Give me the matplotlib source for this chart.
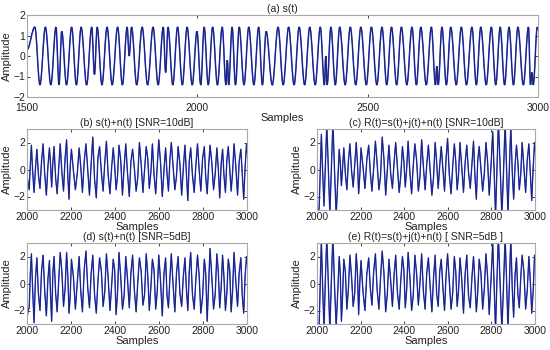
import matplotlib
matplotlib.use('Agg')
import matplotlib.pyplot as plt
from matplotlib.path import Path
from matplotlib.patches import PathPatch

plt.rcParams['font.family'] = ['Liberation Sans', 'DejaVu Sans']

# (a) s(t): extrema of the clean signal (sample, amplitude)
a_x = [1500, 1523, 1538, 1554, 1570, 1585, 1594, 1602, 1616, 1631, 1645, 1659, 1675, 1690,
       1698, 1706, 1720, 1735, 1750, 1766, 1780, 1794, 1800, 1807, 1822, 1838, 1854, 1870,
       1885, 1900, 1907, 1914, 1928, 1942, 1956, 1970, 1985, 1999, 2010, 2020, 2032, 2045,
       2059, 2073, 2084, 2088, 2092, 2102, 2112, 2123, 2137, 2151, 2166, 2180, 2191, 2202,
       2220, 2237, 2252, 2268, 2284, 2299, 2315, 2330, 2346, 2361, 2373, 2377, 2381, 2392,
       2405, 2418, 2434, 2449, 2465, 2480, 2496, 2511, 2527, 2542, 2556, 2570, 2585, 2599,
       2615, 2630, 2643, 2656, 2672, 2687, 2699, 2703, 2707, 2718, 2731, 2744, 2760, 2775,
       2790, 2806, 2819, 2832, 2848, 2863, 2876, 2889, 2902, 2915, 2928, 2941, 2957, 2972,
       2978, 2982, 2986, 2998, 3000]
a_y = [0.3, 1.41, -1.41, 1.41, -1.41, 1.41, -1.41, 1.2, -1.41, 1.41, -1.41, 1.41, -1.41, 1.41,
       -0.9, 1.41, -1.41, 1.41, -1.41, 1.41, -1.41, 1.41, 0.0, 1.41, -1.41, 1.41, -1.41, 1.41,
       -1.41, 1.41, -0.8, 1.41, -1.41, 1.41, -1.41, 1.41, -1.41, 1.2, -1.41, 1.41, -1.41, 1.41,
       -1.41, 1.41, -1.41, -0.2, -1.41, 1.41, -1.41, 1.41, -1.41, 1.41, -1.41, 1.41, -1.41, 1.2,
       -1.41, 1.41, -1.41, 1.41, -1.41, 1.41, -1.41, 1.41, -1.41, 1.41, -1.41, 0.0, -1.41, 1.41,
       -1.41, 1.41, -1.41, 1.41, -1.41, 1.41, -1.41, 1.41, -1.41, 1.41, -1.41, 1.41, -1.41, 1.41,
       -1.41, 1.41, -1.41, 1.41, -1.41, 1.41, -1.41, -0.5, -1.41, 1.41, -1.41, 1.41, -1.41, 1.41,
       -1.41, 1.41, -1.41, 1.41, -1.41, 1.41, -1.41, 1.41, -1.41, 1.41, -1.41, 1.41, -1.41, 1.41,
       -1.41, -0.8, -1.41, 1.41, 1.3]

# noisy signals, 2000..3000: extrema (same positions as s(t)) ...
n_x = [2000, 2010, 2020, 2032, 2045, 2059, 2073, 2088, 2102, 2112, 2123, 2137, 2151, 2166,
       2180, 2191, 2202, 2220, 2237, 2252, 2268, 2284, 2299, 2315, 2330, 2346, 2361, 2377,
       2392, 2405, 2418, 2434, 2449, 2465, 2480, 2496, 2511, 2527, 2542, 2556, 2570, 2585,
       2599, 2615, 2630, 2643, 2656, 2672, 2687, 2703, 2718, 2731, 2744, 2760, 2775, 2790,
       2806, 2819, 2832, 2848, 2863, 2876, 2889, 2902, 2915, 2928, 2941, 2957, 2972, 2985,
       2998, 3000]
b_y = [-0.4, -1.5, 1.8, -1.7, 1.5, -1.4, 1.9, -1.9, 1.6, -1.3, 1.7, -1.8, 1.9, -1.6,
       2.2, -2.2, 1.5, -1.5, 1.6, -1.7, 1.9, -1.9, 2.4, -2.1, 1.7, -1.6, 2.1, -1.8,
       1.6, -1.5, 1.8, -1.9, 1.9, -2.0, 1.5, -1.6, 2.0, -1.7, 1.7, -1.4, 1.9, -1.8,
       2.2, -2.0, 1.6, -1.6, 2.0, -1.5, 1.7, -1.9, 1.8, -2.3, 1.6, -1.7, 1.9, -1.6,
       1.7, -1.8, 1.8, -1.5, 1.6, -2.1, 1.5, -1.7, 1.7, -1.6, 1.9, -1.9, 1.5, -2.2,
       1.9, 1.2]
c_y = [-3.2, -2.8, 2.6, -2.7, 3.4, -3.3, 3.5, -3.4, 1.5, -1.2, 1.6, -1.5, 1.9, -1.3,
       2.0, -1.8, 1.6, -1.4, 1.8, -1.6, 2.1, -1.5, 2.4, -1.9, 1.8, -1.4, 2.0, -1.7,
       1.7, -1.3, 2.1, -1.8, 1.9, -1.6, 2.2, -1.5, 1.8, -1.9, 2.0, -1.4, 1.7, -1.6,
       2.3, -1.8, 1.9, -1.5, 2.0, -1.7, 1.8, -1.4, 2.1, -2.2, 1.7, -1.6, 2.0, -1.9,
       2.8, -3.4, 3.5, -3.5, 3.5, -3.3, 3.2, -2.2, 1.8, -1.5, 2.0, -1.7, 1.9, -2.3,
       2.0, 1.4]
d_y = [-2.6, -1.8, 2.2, -2.9, 1.9, -2.0, 2.1, -2.4, 1.7, -2.8, 2.0, -2.1, 2.3, -1.7,
       2.3, -2.2, 1.8, -1.9, 2.0, -2.1, 2.4, -1.8, 2.1, -2.2, 1.9, -1.7, 2.2, -2.0,
       1.8, -2.3, 2.3, -1.9, 2.0, -1.8, 2.1, -2.1, 1.9, -1.6, 2.2, -2.0, 1.8, -1.9,
       2.1, -2.4, 1.9, -1.8, 2.2, -2.1, 2.0, -1.7, 1.9, -2.0, 2.3, -1.9, 2.1, -2.2,
       1.8, -2.8, 2.6, -1.9, 2.2, -1.8, 2.1, -2.0, 1.8, -2.1, 2.3, -1.7, 1.9, -2.2,
       2.0, 1.5]
e_y = [-3.3, -3.0, 3.2, -3.4, 3.5, -3.5, 3.5, -3.2, 2.0, -2.8, 1.8, -1.9, 2.1, -1.7,
       2.2, -2.3, 1.7, -2.0, 1.9, -1.6, 2.2, -1.9, 2.4, -2.1, 1.8, -1.7, 2.1, -1.9,
       2.0, -1.8, 2.3, -2.0, 2.1, -1.6, 2.2, -1.9, 1.9, -2.1, 2.1, -1.7, 1.8, -2.0,
       2.2, -1.9, 2.0, -1.7, 1.9, -2.2, 2.1, -1.8, 2.0, -2.1, 1.8, -1.9, 2.2, -2.3,
       3.0, -3.5, 3.5, -3.5, 3.5, -3.4, 3.4, -2.5, 1.9, -1.8, 2.1, -1.9, 2.0, -2.2,
       2.1, 1.6]

# ... and the noisy kink halfway along each edge
b_s = [-1.0, 0.3, -0.2, 0.1, -0.4, 0.6, -0.3, 0.2, 0.4, 0.5,
       -0.6, 0.1, -0.2, 0.8, -0.5, 0.3, -0.1, -0.3, 0.2, 0.6,
       0.0, 0.4, -0.7, 0.9, -0.2, 0.5, -0.4, 0.1, 0.3, -0.5,
       0.7, 0.2, -0.3, 0.6, 0.1, -0.6, 0.4, 0.0, 0.8, -0.2,
       -0.4, 0.3, 0.5, -0.1, -0.3, 0.7, 0.2, -0.5, 0.4, 0.1,
       -0.2, 0.6, -0.4, 0.3, 0.0, 0.8, -0.6, 0.2, 0.5, -0.3,
       0.1, 0.4, -0.5, 0.7, 0.0, -0.2, 0.3, 0.6, -0.4, 0.2, 1.4]
c_s = [-3.4, 0.0, -0.2, 0.3, 0.1, 0.2, -0.1, -0.9, 0.4, 0.2,
       -0.3, 0.6, -0.1, 0.3, 0.5, -0.4, 0.2, 0.7, -0.2, 0.1,
       0.4, -0.5, 0.8, 0.0, -0.3, 0.5, 0.2, -0.4, 0.6, 0.1,
       -0.2, 0.3, 0.7, -0.5, 0.2, 0.4, -0.1, -0.6, 0.5, 0.3,
       0.0, 0.8, -0.4, 0.2, 0.6, -0.3, 0.1, 0.5, -0.2, 0.4,
       -0.5, 0.7, 0.1, -0.3, 0.6, 0.2, -0.1, 0.1, 0.3, -0.2,
       0.0, 0.2, -0.1, 0.3, 0.5, -0.4, 0.2, 0.7, -0.3, 0.1, 1.6]
d_s = [-2.0, 0.7, -0.6, 0.4, -0.8, 0.9, -0.5, 0.3, -0.9, 0.8,
       -0.7, 0.2, 0.9, -0.4, 0.6, -0.9, 0.5, 0.1, -0.6, 1.0,
       -0.3, 0.7, -0.8, 0.2, 0.9, -0.6, 0.4, -0.2, 1.0, -0.7,
       0.5, -0.9, 0.3, 0.8, -0.5, 0.1, 0.9, -0.8, 0.6, -0.3,
       1.0, -0.6, 0.2, 0.7, -0.9, 0.4, -0.1, 0.8, -0.7, 0.5,
       -0.4, 0.9, -0.8, 0.3, 0.6, -1.0, 0.7, -0.2, 0.5, -0.8,
       0.9, -0.3, 0.4, -0.7, 1.0, -0.5, 0.2, 0.8, -0.9, 0.6, 1.7]
e_s = [-3.5, 0.2, -0.3, 0.4, 0.0, 0.3, -0.2, -0.7, 0.6, -0.8,
       0.9, -0.4, 0.5, -0.7, 0.8, 0.1, -0.6, 0.7, -0.3, 0.9,
       -0.5, 0.4, 0.8, -0.8, 0.2, 0.6, -0.7, 0.3, 1.0, -0.4,
       0.5, -0.9, 0.7, 0.1, -0.6, 0.8, -0.2, 0.4, -0.8, 0.9,
       -0.3, 0.6, 0.2, -0.7, 0.9, -0.5, 0.3, 0.7, -0.9, 0.4,
       0.1, -0.6, 0.8, -0.4, 0.5, 0.2, -0.1, 0.3, 0.0, -0.2,
       0.3, 0.1, -0.3, 0.6, -0.8, 0.4, 0.9, -0.5, 0.2, -0.6, 1.8]

titles = ['(a) s(t)', '(b) s(t)+n(t) [SNR=10dB]', '(c) R(t)=s(t)+j(t)+n(t) [SNR=10dB]',
          '(d) s(t)+n(t) [SNR=5dB]', '(e) R(t)=s(t)+j(t)+n(t) [ SNR=5dB ]']

navy = '#1c2460'
blue = '#3040f0'
edge = '#a8a8a8'


def style(ax, title, xpad=1.5):
    ax.set_title(title, fontsize=7.5, color='#222222', pad=2)
    ax.set_xlabel('Samples', fontsize=8, color='#222222', labelpad=0)
    ax.set_ylabel('Amplitude', fontsize=8, color='#222222', labelpad=1)
    ax.tick_params(direction='in', length=2.5, width=0.6, labelsize=7.5, colors='#222222',
                   top=True, right=True, pad=1.5)
    ax.tick_params(axis='x', pad=xpad)
    for s in ax.spines.values():
        s.set_color(edge)
        s.set_linewidth(0.8)


fig = plt.figure(figsize=(5.5, 3.5), dpi=100)

# top panel: smooth curve through the extrema
ax = fig.add_axes([27 / 550, 1 - 97 / 350, 511 / 550, 82 / 350])
verts = [(a_x[0], a_y[0])]
codes = [Path.MOVETO]
for i in range(1, len(a_x)):
    x0, y0, x1, y1 = a_x[i - 1], a_y[i - 1], a_x[i], a_y[i]
    dx = x1 - x0
    verts += [(x0 + 0.36 * dx, y0), (x1 - 0.36 * dx, y1), (x1, y1)]
    codes += [Path.CURVE4] * 3
path = Path(verts, codes)
ax.add_patch(PathPatch(path, fill=False, edgecolor=blue, lw=1.1))
ax.add_patch(PathPatch(path, fill=False, edgecolor=navy, lw=0.7))
ax.set_xlim(1500, 3000)
ax.set_ylim(-2, 2)
ax.set_xticks([1500, 2000, 2500, 3000])
ax.set_yticks([-2, -1, 0, 1, 2])
style(ax, titles[0], xpad=4)

# lower panels
boxes = [(27, 129, 220, 81), (317, 129, 218, 81), (27, 243, 220, 81), (317, 243, 218, 81)]
series = [(b_y, b_s), (c_y, c_s), (d_y, d_s), (e_y, e_s)]
for (l, t, w, h), (ys, ks), title in zip(boxes, series, titles[1:]):
    xs, vs = [], []
    for i in range(len(n_x) - 1):
        xs += [n_x[i], (n_x[i] + n_x[i + 1]) / 2]
        vs += [ys[i], ks[i]]
    xs.append(n_x[-1])
    vs.append(ys[-1])
    ax = fig.add_axes([l / 550, 1 - (t + h) / 350, w / 550, h / 350])
    ax.plot(xs, vs, color=blue, lw=1.0)
    ax.plot(xs, vs, color=navy, lw=0.6)
    ax.set_xlim(2000, 3000)
    ax.set_ylim(-3, 3)
    ax.set_xticks([2000, 2200, 2400, 2600, 2800, 3000])
    ax.set_yticks([-2, 0, 2])
    style(ax, title)

fig.savefig('out.png', dpi=100)
